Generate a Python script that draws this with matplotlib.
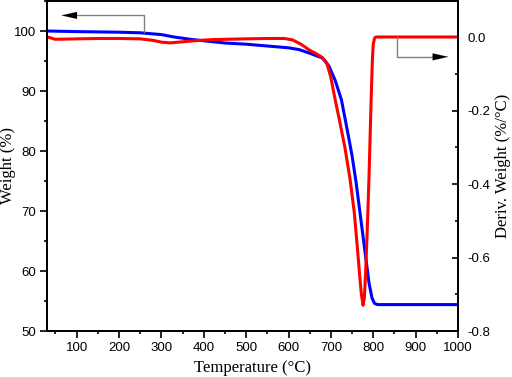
import numpy as np
import matplotlib
matplotlib.use("Agg")
import matplotlib.pyplot as plt
from matplotlib.ticker import MultipleLocator

# weight curve (left axis)
temp_w = [30, 100, 200, 250, 300, 330, 370, 410, 450, 500, 550, 600, 625,
          650, 665, 680, 695, 710, 725, 740, 750, 760, 770, 780, 790, 797,
          803, 810, 850, 900, 995]
weight = [100.0, 99.9, 99.8, 99.7, 99.4, 99.0, 98.6, 98.3, 98.0, 97.8, 97.5,
          97.2, 96.9, 96.3, 95.9, 95.5, 94.2, 91.8, 88.5, 83.0, 79.2, 74.5,
          69.0, 63.5, 58.0, 55.5, 54.6, 54.4, 54.4, 54.4, 54.4]

# derivative weight curve (right axis)
temp_d = [30, 38, 48, 60, 100, 150, 200, 250, 280, 300, 320, 350, 380, 420,
          460, 500, 550, 590, 610, 630, 650, 665, 680, 690, 700, 710, 720,
          733, 745, 755, 763, 768, 772, 776, 779, 782, 786, 790, 795, 798,
          800, 803, 806, 850, 900, 995]
deriv = [0.0, -0.002, -0.006, -0.006, -0.005, -0.004, -0.004, -0.005, -0.009,
         -0.014, -0.016, -0.013, -0.010, -0.007, -0.006, -0.005, -0.004,
         -0.004, -0.008, -0.020, -0.036, -0.045, -0.056, -0.070, -0.110,
         -0.170, -0.225, -0.300, -0.385, -0.475, -0.580, -0.650, -0.700,
         -0.730, -0.710, -0.640, -0.520, -0.380, -0.170, -0.060, -0.020,
         -0.003, 0.0, 0.0, 0.0, 0.0]

x_ticks = [100, 200, 300, 400, 500, 600, 700, 800, 900, 1000]

tick_font = "Liberation Sans"
label_font = "Liberation Serif"

fig = plt.figure(figsize=(5.12, 3.77), dpi=100)
ax = fig.add_axes([47/512, 1 - 331/377, 411/512, 330/377])
ax2 = ax.twinx()

ax.plot(temp_w, weight, color="#0000ff", lw=2.2, solid_joinstyle="round")
ax2.plot(temp_d, deriv, color="#ff0000", lw=2.2, solid_joinstyle="round")

ax.set_xlim(30, 1000)
ax.set_ylim(50, 105)
ax2.set_ylim(-0.8, 0.098)

ax.set_xticks(x_ticks)
ax.xaxis.set_minor_locator(MultipleLocator(50))
ax.yaxis.set_major_locator(MultipleLocator(10))
ax.yaxis.set_minor_locator(MultipleLocator(5))
ax2.yaxis.set_major_locator(MultipleLocator(0.2))
ax2.yaxis.set_minor_locator(MultipleLocator(0.1))
ax2.yaxis.set_major_formatter(lambda v, p: f"{v:.1f}".replace("-0.0", "0.0"))

ax.tick_params(axis="both", which="major", direction="out", length=5,
               width=1.2, labelsize=9.5, pad=3)
ax.tick_params(axis="both", which="minor", direction="out", length=2.5,
               width=1.2)
ax.tick_params(axis="y", which="both", right=False)
ax.tick_params(axis="x", which="both", top=False)
ax2.tick_params(axis="y", which="major", direction="in", length=4,
                width=1.2, labelsize=9.5, pad=6.5)
ax2.tick_params(axis="y", which="minor", direction="in", length=2, width=1.2)

for a in (ax, ax2):
    for s in a.spines.values():
        s.set_linewidth(1.3)
    for lbl in a.get_xticklabels() + a.get_yticklabels():
        lbl.set_fontfamily(tick_font)

ax.set_xlabel("Temperature (°C)", fontsize=12, family=label_font)
ax.set_ylabel("Weight (%)", fontsize=12, family=label_font)
ax2.set_ylabel("Deriv. Weight (%/°C)", fontsize=12, family=label_font)
ax.xaxis.set_label_coords(0.5, -0.088)
ax.yaxis.set_label_coords(-0.076, 0.5)
ax2.yaxis.set_label_coords(1.09, 0.5)

# arrows pointing to the axis each curve belongs to
ax.plot([259, 259, 100], [99.8, 102.6, 102.6], color="#808080", lw=1)
ax.annotate("", xy=(64, 102.6), xytext=(101, 102.6),
            arrowprops=dict(arrowstyle="-|>,head_length=1.1,head_width=0.25",
                            color="black", lw=0.1, shrinkA=0, shrinkB=0))
ax2.plot([855, 855, 938], [0.0, -0.054, -0.054], color="#808080", lw=1)
ax2.annotate("", xy=(977, -0.054), xytext=(937, -0.054),
             arrowprops=dict(arrowstyle="-|>,head_length=1.1,head_width=0.25",
                             color="black", lw=0.1, shrinkA=0, shrinkB=0))

fig.savefig("out.png", dpi=100)
